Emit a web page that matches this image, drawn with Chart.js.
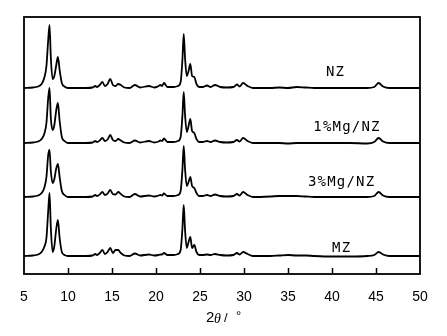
<!DOCTYPE html>
<html>
<head>
<meta charset="utf-8">
<script src="https://cdn.jsdelivr.net/npm/chart.js@4.4.1/dist/chart.umd.min.js"></script>
<style>
    html, body { margin: 0; padding: 0; background: #fff; }
    #wrap { width: 447px; height: 336px; }
</style>
</head>
<body>
<div id="wrap"><canvas id="xrd"></canvas></div>
<script>
// 2-theta sample points (degrees)
const angles = [
    5, 6, 6.6, 7.0, 7.3, 7.55, 7.75, 7.9, 8.05, 8.25, 8.45, 8.65, 8.85, 9.05, 9.3, 9.6,
    10, 11, 12, 12.8, 13.1, 13.3, 13.6, 13.9, 14.2, 14.5, 14.8, 15.1, 15.4, 15.7, 16.0, 16.4,
    17.0, 17.6, 18.2, 19.2, 19.8, 20.3, 20.5, 20.7, 20.9, 21.3, 22.0, 22.5, 22.8, 23.0, 23.15,
    23.3, 23.5, 23.7, 23.9, 24.1, 24.35, 24.6, 24.9, 25.3, 25.8, 26.2, 26.7, 27.3, 28.0, 28.8,
    29.2, 29.5, 29.9, 30.4, 31, 33, 34, 35, 36, 37, 38, 40, 42, 44, 44.8, 45.3, 45.8, 46.5, 48, 50
];

// relative intensities, one value per angle
const nz = [
    0, 0.5, 1.5, 4, 10, 22, 48, 63, 30, 9, 12, 22, 31, 18, 5, 1.5,
    0, 0, 0, 0.5, 2, 1, 3, 6, 2, 4, 9, 3, 2, 4, 3, 0.5,
    0, 3, 0.5, 2, 0.5, 2, 3, 2, 5, 1, 1, 2, 6, 28, 54,
    30, 12, 17, 24, 12, 11, 4, 1, 1, 2.5, 1, 3, 1, 0.5, 1,
    3.5, 1.5, 5, 2, 0, 0, 0.5, 0, 1, 0.5, 0, 0, 0, 0, 1, 5, 1.5, 0, 0, 0
];
const mg1 = [
    0, 0.5, 1.5, 4, 9, 20, 45, 55, 25, 13, 18, 32, 40, 22, 6, 2,
    0, 0, 0, 0.5, 2, 1, 2.5, 5, 2, 3.5, 8, 3, 2, 4, 2.5, 0.5,
    0, 2.5, 0.5, 2, 0.5, 1.5, 2.5, 2, 4.5, 1, 1, 2, 6, 27, 51,
    28, 11, 17, 24, 12, 10, 4, 1, 1, 2, 1, 2.5, 1, 0.5, 1,
    3, 1.5, 5, 2, 0, 0, 0, -0.5, 0, 0, 0, 0, 0, -0.5, 1, 5, 1.5, 0, 0, 0
];
const mg3 = [
    0, 0.5, 1.5, 4, 9, 20, 42, 47, 26, 14, 18, 28, 33, 20, 6, 2,
    0, 0, 0, 0.5, 2, 1, 2.5, 5, 2, 3.5, 7, 3, 2.5, 5, 3, 0.5,
    0, 3, 0.5, 1.5, 0.5, 1.5, 2, 1.5, 3.5, 1, 1, 2, 6, 27, 51,
    28, 11, 15, 20, 11, 9, 4, 1, 1, 2, 1, 2.5, 1, 0.5, 1,
    3, 1.5, 5, 2, 0, 0.5, 1, 1, 1, 0.5, 0, 0, 0, 0, 1, 5, 1.5, 0, 0, 0
];
const mz = [
    0, 0.5, 1.5, 4, 9, 18, 45, 63, 28, 4, 10, 26, 36, 18, 4, 1,
    0, 0, 0, 0.5, 2, 1, 3, 6, 2, 4, 8, 3, 6, 6, 3, 0.5,
    0, 2.5, 0.5, 1.5, 0.5, 1, 1.5, 1.5, 3, 1, 1, 2, 6, 27, 51,
    26, 8, 14, 19, 8, 11, 4, 1, 1, 1.5, 1, 2, 1, 0.5, 1,
    3, 1.5, 4, 2, 0, 0, 0.5, 1, 0.5, 0.5, 0, -0.5, -0.5, 0, 1, 4, 1.5, 0, 0, 0
];

const sampleNames = ['NZ', '1%Mg/NZ', '3%Mg/NZ', 'MZ'];
const offsets = [186, 131, 77, 18];   // vertical stacking offsets
const xTicks = [5, 10, 15, 20, 25, 30, 35, 40, 45, 50];

const series = [nz, mg1, mg3, mz];

const datasets = series.map((vals, i) => ({
    label: sampleNames[i],
    data: angles.map((a, k) => ({ x: a, y: vals[k] + offsets[i] })),
    borderColor: '#000',
    borderWidth: 1.8,
    pointRadius: 0,
    fill: false,
    cubicInterpolationMode: 'monotone',
}));

// label placement per trace: angle of the text centre and rise above the baseline
const LABEL_POS = [
    { x: 40.4, rise: 16 },
    { x: 41.7, rise: 16 },
    { x: 41.1, rise: 15 },
    { x: 41.1, rise: 8 },
];

const framePlugin = {
    id: 'frame',
    afterDatasetsDraw(chart) {
        const { ctx, chartArea: a, scales } = chart;
        ctx.save();
        ctx.strokeStyle = '#000';

        // plot frame
        ctx.lineWidth = 1.8;
        ctx.strokeRect(a.left, a.top, a.right - a.left, a.bottom - a.top);

        // inward tick marks
        ctx.lineWidth = 1.5;
        for (const t of xTicks.slice(1, -1)) {
            const px = Math.round(scales.x.getPixelForValue(t)) + 0.5;
            ctx.beginPath();
            ctx.moveTo(px, a.bottom);
            ctx.lineTo(px, a.bottom - 6);
            ctx.stroke();
        }

        // trace names
        ctx.fillStyle = '#000';
        ctx.font = '14px "DejaVu Sans Mono"';
        ctx.letterSpacing = '1.2px';
        ctx.textAlign = 'center';
        ctx.textBaseline = 'middle';
        sampleNames.forEach((name, i) => {
            const px = scales.x.getPixelForValue(LABEL_POS[i].x);
            const py = scales.y.getPixelForValue(offsets[i] + LABEL_POS[i].rise);
            ctx.fillText(name, px, py);
        });

        // axis title: 2θ /°
        ctx.letterSpacing = '0px';
        ctx.textAlign = 'left';
        const ty = 318;
        ctx.font = '15px "Liberation Sans"';
        ctx.fillText('2', 206, ty);
        ctx.font = 'italic 14px "Liberation Serif"';
        ctx.fillText('θ', 214, ty + 1);
        ctx.font = '13px "Liberation Sans"';
        ctx.fillText('/', 224, ty);
        ctx.fillText('°', 236, ty - 2);
        ctx.restore();
    }
};

new Chart(document.getElementById('xrd'), {
    type: 'line',
    data: { datasets },
    options: {
        responsive: true,
        maintainAspectRatio: false,
        animation: false,
        layout: { padding: { left: 24, right: 27, top: 17, bottom: 0 } },
        plugins: { legend: { display: false }, tooltip: { enabled: false } },
        scales: {
            x: {
                type: 'linear',
                min: 5,
                max: 50,
                afterBuildTicks: (scale) => { scale.ticks = xTicks.map(v => ({ value: v })); },
                afterFit: (scale) => { scale.height = 62; },
                grid: { display: false },
                border: { display: false },
                ticks: {
                    color: '#000',
                    padding: 7,
                    maxRotation: 0,
                    font: { family: '"Liberation Sans"', size: 14 },
                },
            },
            y: {
                display: false,
                min: 0,
                max: 257,
            },
        },
    },
    plugins: [framePlugin],
});
</script>
</body>
</html>
